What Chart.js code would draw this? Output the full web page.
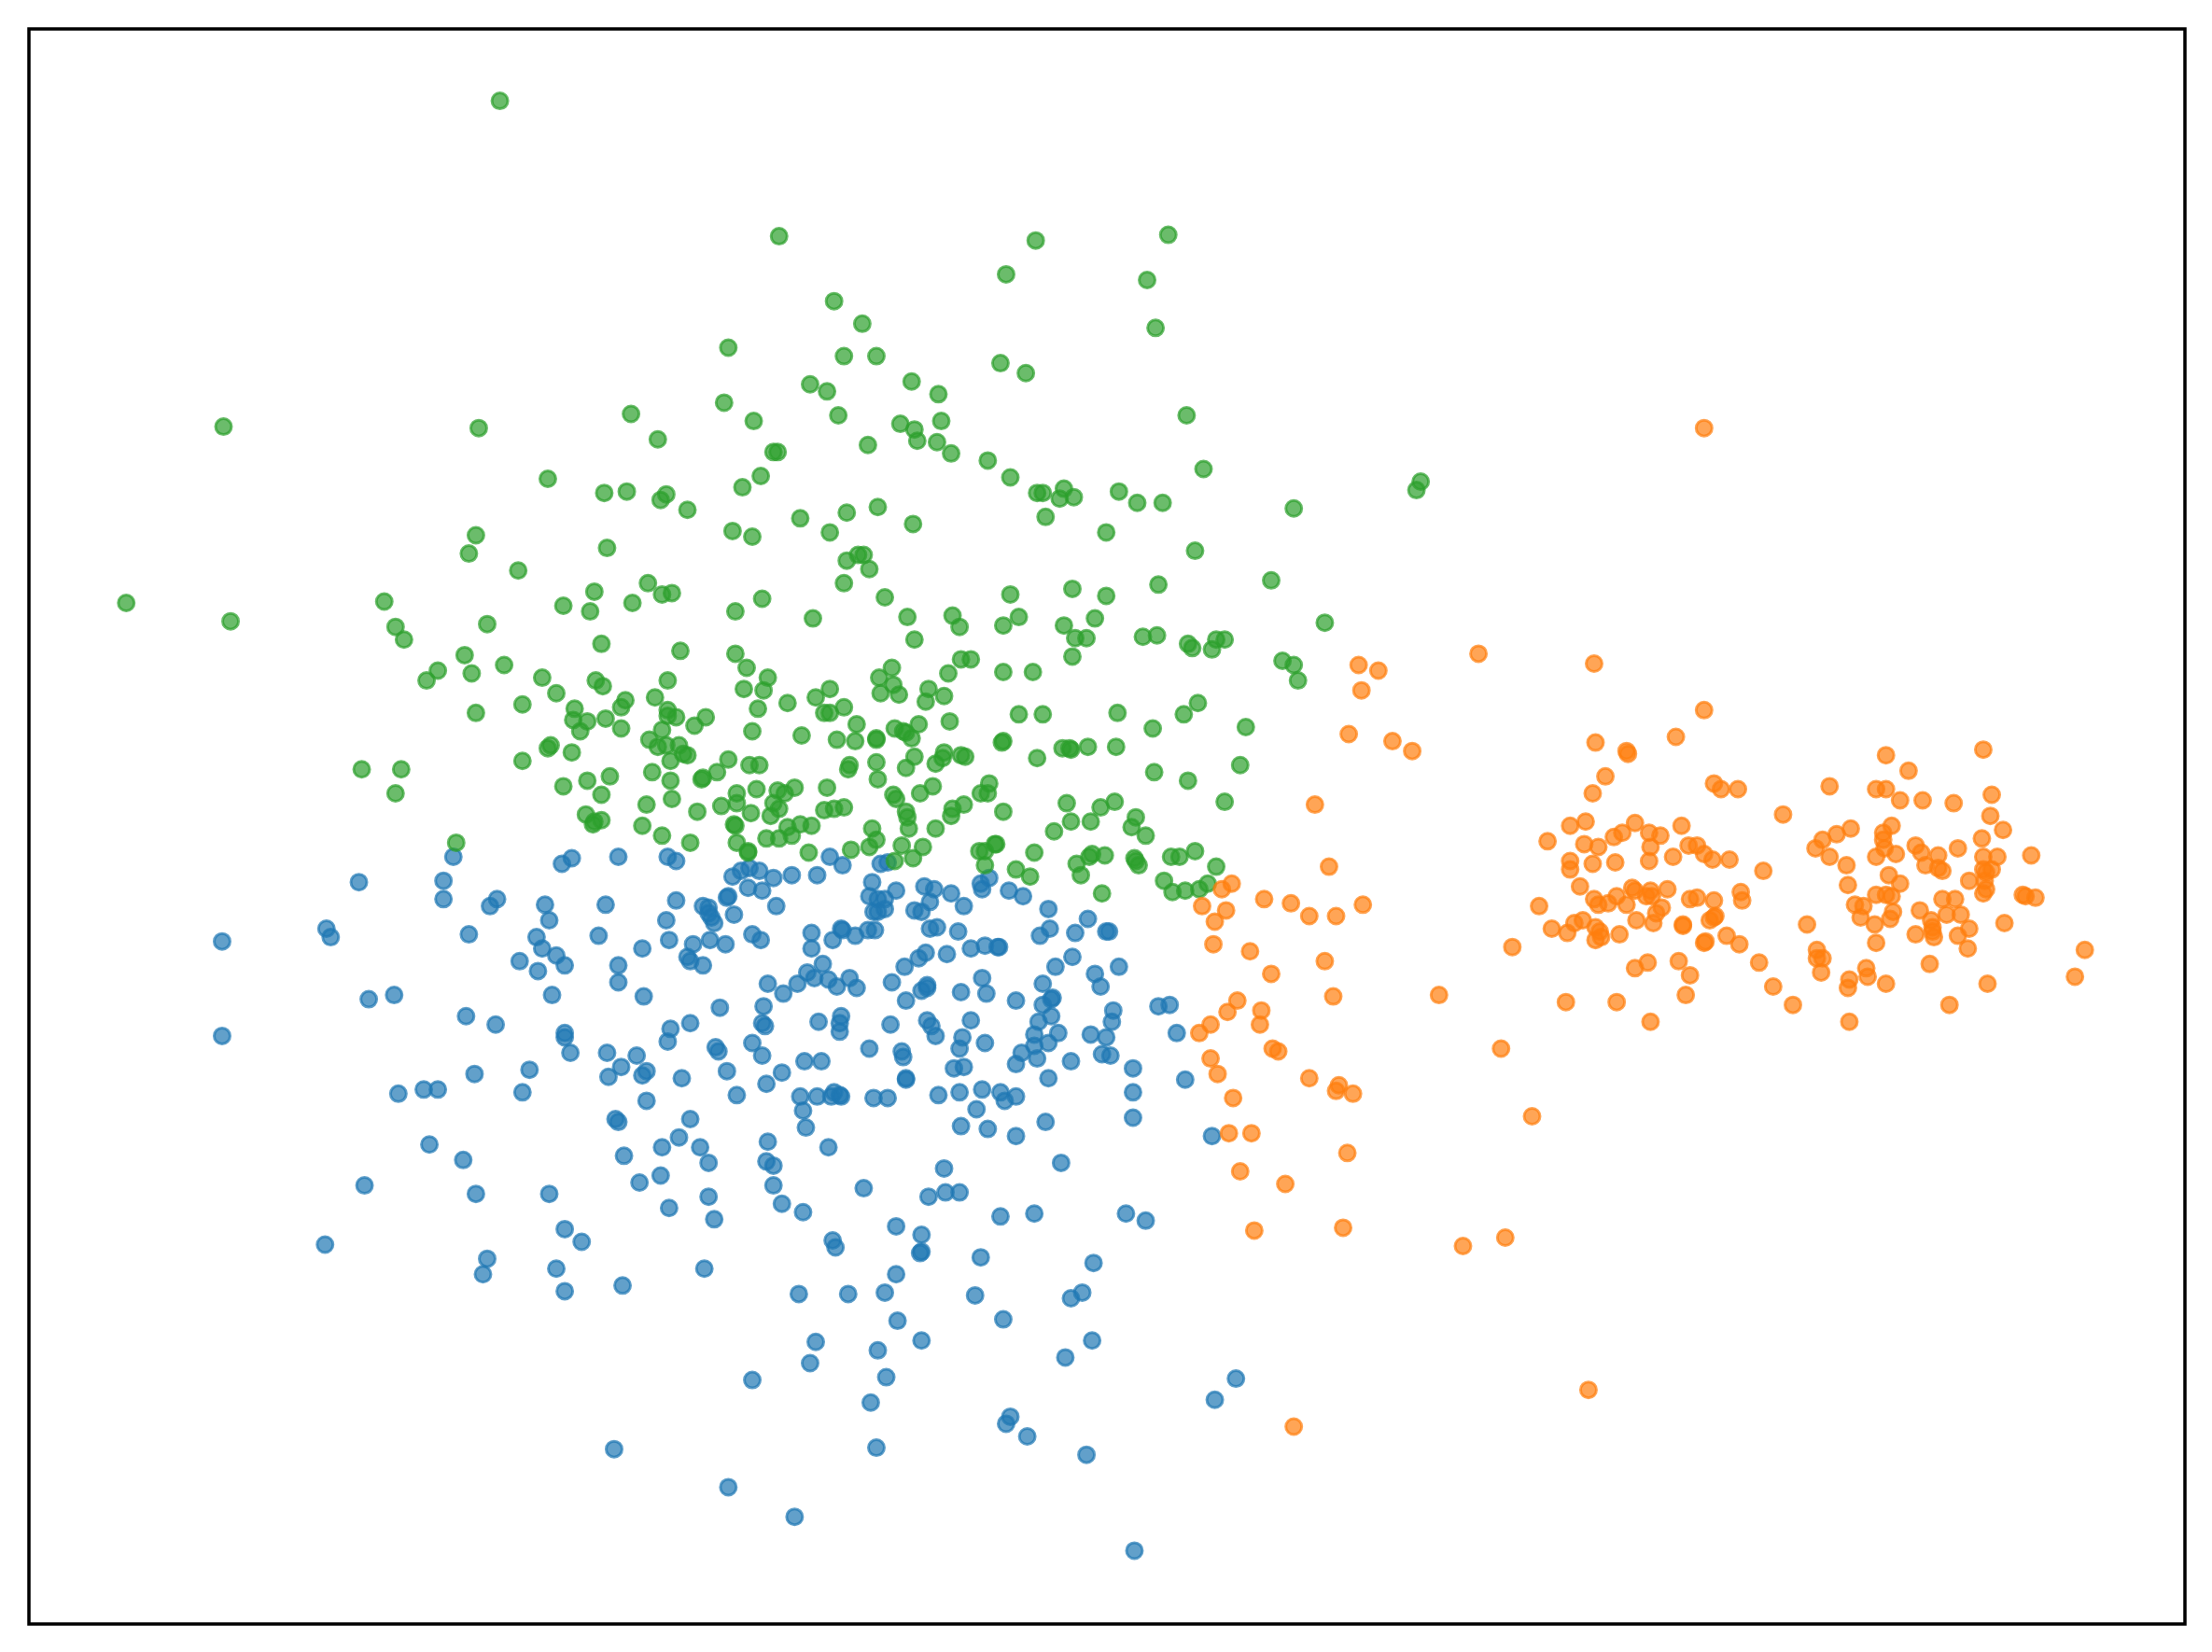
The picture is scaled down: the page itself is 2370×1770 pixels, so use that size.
<!DOCTYPE html>
<html>
<head>
<meta charset="utf-8">
<title>Scatter</title>
<script src="https://cdn.jsdelivr.net/npm/chart.js@4"></script>
<style>
  html, body { margin: 0; padding: 0; background: #fff; }
  canvas { display: block; }
</style>
</head>
<body>
<canvas id="myChart" width="2370" height="1770"></canvas>
<script>
// values, [x, y] (y grows downwards)
const xRange = [20, 1549];
const yRange = [20, 1151];

const bluePoints = [
  [405,608],[398,612],[438,607],[473,607],[479,610],[588,607],[597,613],[624,612],[629,611],[519,621],[525,617],[531,615],[538,617],[548,622],[561,620],[579,620],
  [530,629],[540,631],[516,635],[515,636],[550,642],[520,648],[479,638],[498,642],[502,643],[502,647],[506,654],[504,650],[472,652],[474,666],[455,672],
  [491,669],[503,666],[514,669],[533,662],[539,666],[487,678],[489,681],[498,684],[438,684],[438,696],[456,706],[510,714],[541,713],[540,725],[542,727],[580,724],
  [596,720],[595,725],[595,731],[631,726],[657,723],[660,727],[663,734],[688,723],[682,735],[680,743],[698,739],[616,743],[639,745],[640,749],[642,765],[642,764],
  [683,756],[676,757],[665,776],[680,774],[696,772],[709,774],[712,780],[720,777],[692,786],[681,798],[700,800],[720,805],[741,795],[743,764],[720,754],[724,746],
  [735,750],[733,741],[743,739],[733,733],[736,724],[750,732],[745,720],[739,712],[746,707],[745,708],[739,697],[720,709],[696,693],[699,704],[681,703],[657,698],
  [653,702],[657,700],[642,709],[632,696],[641,685],[651,679],[656,675],[671,676],[688,672],[698,670],[708,671],[707,671],[679,660],[659,658],[664,657],[648,645],
  [653,646],[659,639],[655,628],[662,630],[674,633],[683,642],[695,626],[696,630],[701,622],[715,631],[725,635],[743,644],[744,658],[737,663],[762,661],[771,651],
  [784,660],[786,660],[760,678],[748,685],[776,690],[780,699],[793,685],[789,716],[788,724],[784,735],[773,733],[781,747],[787,748],[759,752],[803,757],[803,774],
  [803,792],[752,824],[821,713],[829,712],[618,625],[616,635],[635,631],[622,637],[627,637],[619,646],[622,646],[627,644],[575,661],[575,672],[590,666],
  [596,658],[597,659],[606,663],[615,659],[620,659],[583,683],[572,689],[577,693],[587,694],[593,699],[602,693],[607,700],[565,697],[555,704],[544,697],[533,739],
  [540,748],[554,760],[570,752],[582,752],[543,768],[522,776],[567,777],[579,777],[591,774],[595,776],[589,777],[596,777],[569,787],[571,799],[587,813],[619,778],
  [629,778],[544,809],[543,823],[548,826],[489,793],[481,806],[469,813],[496,813],[502,824],[442,819],[458,780],[436,793],[438,795],[483,764],[515,759],[507,742],
  [509,745],[475,729],[473,738],[489,725],[451,748],[458,759],[455,762],[440,756],[431,763],[430,746],
  [321,607],[314,624],[314,637],[254,625],[352,637],[347,642],[157,667],[231,658],[234,664],[332,662],[380,664],[384,672],[389,652],[386,641],[424,663],[429,641],
  [368,681],[381,688],[394,677],[400,684],[391,705],[261,708],[279,705],[157,734],[330,720],[351,726],[400,732],[400,735],[404,746],[375,758],[336,761],[282,775],
  [300,772],[310,772],[370,774],[304,811],[328,822],[258,840],[337,846],[389,846],[230,882],[400,871],[412,880],[345,892],[342,903],[394,899],[400,915],[441,911],
  [499,899],[453,838],[468,833],[474,856],[502,848],[506,864],[566,917],[601,917],[627,916],[635,903],[590,879],[592,884],[635,869],[653,875],[653,887],[652,888],
  [658,848],[669,828],[670,845],[680,845],[612,842],[548,840],[554,853],[569,859],[709,862],[733,860],[695,891],[691,918],[636,936],[711,935],[775,895],[759,920],
  [767,916],[578,951],[574,966],[622,957],[653,950],[628,976],[533,978],[617,994],[755,962],[774,950],[876,977],[861,992],[716,1004],[713,1009],[728,1018],[621,1026],
  [770,1031],[435,1027],[516,1054],[563,1075],[804,1099],[798,860],[812,865],[859,805],[840,765],[834,732]
];

const greenPoints = [
  [354,71],[552,167],[734,170],[828,166],[713,194],[813,198],[819,232],[591,213],[611,229],[516,246],[598,252],[621,252],[709,257],[727,264],[574,272],[586,277],
  [646,270],[665,279],[513,285],[594,294],[534,298],[447,293],[158,302],[339,303],[638,300],[648,304],[667,298],[466,311],[650,312],[664,313],[674,321],[615,315],
  [841,294],[548,320],[551,320],[700,326],[853,332],[539,337],[526,345],[716,338],[388,339],[428,349],[444,348],[468,354],[472,350],[735,349],[739,349],[754,346],
  [751,353],[761,352],[793,348],[806,356],[824,356],[487,361],[600,363],[622,359],[917,360],[1007,341],[1004,347],[567,367],[647,371],[741,366],[519,376],[533,380],
  [588,377],[337,379],[784,377],[332,392],[430,388],[608,393],[612,393],[600,397],[847,390],[367,404],[616,403],[89,427],[598,413],[459,413],[421,419],[469,421],
  [476,420],[901,411],[821,414],[540,424],[716,421],[760,417],[784,422],[627,423],[272,426],[163,440],[280,444],[345,442],[286,453],[329,464],[357,471],[310,475],
  [334,477],[302,482],[337,505],[256,545],[284,545],[280,562],[323,597],
  [399,429],[418,433],[448,427],[521,433],[576,438],[643,437],[675,436],[680,444],[648,453],[426,456],[482,461],[521,463],[529,473],[681,467],[688,467],[672,477],
  [632,473],[623,480],[633,485],[637,492],[624,491],[544,480],[541,489],[527,488],[384,480],[394,491],[422,482],[427,486],[473,482],[464,494],[443,496],[440,501],
  [370,499],[407,502],[406,510],[416,511],[411,518],[429,509],[440,516],[473,503],[473,507],[479,508],[492,514],[500,508],[537,502],[558,498],[578,494],[588,488],
  [598,501],[584,505],[588,505],[658,488],[656,497],[669,493],[673,511],[607,513],[606,525],[593,524],[621,524],[621,523],[634,516],[651,513],[642,519],[646,523],
  [640,518],[469,517],[460,524],[466,529],[472,528],[481,528],[484,534],[487,535],[475,539],[533,518],[568,521],[370,539],[388,530],[390,528],[405,533],[462,547],
  [475,553],[476,566],[458,570],[455,585],[494,575],[469,592],[489,597],[498,551],[497,552],[508,547],[516,538],[531,542],[538,542],[602,542],[601,545],[621,540],
  [622,552],[642,544],[648,536],[663,541],[669,533],[668,537],[681,535],[684,536],[536,559],[522,562],[522,569],[511,571],[532,576],[551,560],[563,558],[556,562],
  [548,569],[552,573],[546,578],[586,558],[584,574],[591,573],[598,572],[520,584],[521,585],[522,597],[530,603],[530,604],[543,594],[552,594],[558,586],[561,592],
  [567,584],[575,585],[573,604],[603,602],[616,600],[618,587],[621,595],[633,563],[635,566],[642,575],[643,579],[644,587],[652,562],[661,557],[683,570],[675,573],
  [674,578],[663,587],[639,599],[654,600],[647,608],[634,610],
  [399,557],[416,553],[432,550],[426,563],[415,577],[426,581],[420,584],[421,582],
  [711,443],[722,437],[754,443],[776,438],[762,452],[770,452],[760,465],[711,476],[732,476],[810,451],[820,450],[842,456],[845,459],[859,460],[862,453],[868,453],
  [909,468],[917,471],[920,482],[939,441],[722,506],[739,506],[792,505],[817,516],[839,506],[849,498],[883,515],[711,525],[710,526],[735,537],[753,530],[758,530],
  [759,531],[771,529],[791,529],[818,547],[842,553],[879,542],[868,568],[701,555],[700,562],[695,562],[711,575],[756,569],[780,572],[790,568],[759,582],[773,582],
  [747,589],[805,579],[802,586],[812,592],[733,604],[706,598],[705,598],[698,603],[694,603],[698,613],[720,616],[730,621],[763,612],[766,620],[772,607],[774,605],
  [783,606],[804,608],[807,613],[805,610],[830,607],[836,607],[847,603],[862,614],[825,624],[831,632],[840,631],[850,630],[856,626],[781,633]
];

const orangePoints = [
  [963,471],[977,475],[965,489],[956,520],[987,525],[1001,532],[932,570],[942,614],[873,626],[866,630],[896,637],[915,640],[928,649],[947,649],[966,641],[852,642],
  [869,645],[861,653],[1131,526],[1153,532],[1154,534],[1138,550],[1129,562],[1188,522],[1215,555],[1220,559],[1232,559],[1264,577],[1297,557],[1330,559],[1337,559],
  [1337,535],[1353,546],[1347,567],[1363,567],[1385,569],[1406,531],[1412,563],[1411,578],[1420,588],[1405,594],[1388,601],[1440,606],
  [1124,582],[1113,585],[1097,596],[1123,598],[1133,600],[1144,593],[1150,590],[1159,583],[1169,590],[1177,592],[1170,600],[1169,610],[1192,585],[1186,607],[1197,599],
  [1203,599],[1208,605],[1214,609],[1226,609],[1250,617],[1113,610],[1113,616],[1129,612],[1145,611],[1120,628],[1130,637],[1133,641],[1140,640],[1146,635],[1153,641],
  [1157,629],[1159,631],[1170,631],[1167,635],[1171,635],[1182,630],[1091,642],[1198,637],[1203,636],[1215,638],[1234,632],[1235,638],[1178,643],[1174,647],[1172,654],
  [1160,652],[1100,658],[1111,661],[1116,654],[1122,652],[1131,657],[1134,660],[1131,666],[1135,664],[1148,662],[1193,655],[1193,656],[1215,650],[1216,649],[1212,652],
  [1209,667],[1208,668],[1224,663],[1233,669],[1247,682],[1257,699],[1271,712],[1281,655],[1190,681],[1198,691],[1195,705],[1168,682],[1159,686],[1146,710],[1110,710],
  [1170,724],[1072,671],[1064,743],
  [1312,587],[1302,591],[1292,595],[1287,601],[1297,607],[1309,613],[1310,627],[1341,585],[1335,590],[1335,595],[1336,601],[1344,605],[1330,607],[1358,599],[1362,604],
  [1374,606],[1365,613],[1374,615],[1377,617],[1406,607],[1416,607],[1412,616],[1406,616],[1408,618],[1396,624],[1407,624],[1408,630],[1406,633],[1339,620],[1347,626],
  [1330,634],[1337,634],[1341,635],[1377,637],[1386,637],[1434,634],[1443,636],[1436,635],[1315,641],[1321,642],[1319,650],[1329,655],[1342,646],[1340,651],[1361,645],
  [1380,648],[1390,648],[1396,658],[1421,654],[1369,652],[1370,657],[1370,660],[1371,664],[1358,662],[1388,663],[1395,672],[1330,668],[1288,673],[1288,679],[1292,679],
  [1291,689],[1323,686],[1324,692],[1311,694],[1310,700],[1337,697],[1368,683],[1409,697],[1382,712],[1311,724],[1478,673],[1471,692],
  [1208,303],[1048,463],[1130,470],[1208,503],[1020,705],[1086,791],[1037,883],[1067,877],[1126,985],[917,1011],[850,732],[858,726],[870,717],[877,709],[894,716],[893,726],
  [858,750],[863,761],[902,743],[906,745],[874,778],[871,803],[887,803],[879,830],[911,839],[955,817],[889,872],[952,870],[928,764],[949,769],[947,773],[959,775],[945,706],
  [939,681],[901,690],[886,674],[860,669]
];

function toXY(points) {
  return points.map(p => ({ x: p[0], y: p[1] }));
}

function makeSet(label, points, r, g, b, order) {
  return {
    label: label,
    data: toXY(points),
    order: order,
    pointRadius: 8.5,
    pointHoverRadius: 8.5,
    pointBorderWidth: 3,
    pointBackgroundColor: `rgba(${r},${g},${b},0.7)`,
    pointBorderColor: `rgba(${r},${g},${b},0.7)`
  };
}

// black box round the plot, the axes themselves have no ticks
const frame = {
  id: 'frame',
  afterDraw(chart) {
    const a = chart.chartArea;
    const c = chart.ctx;
    c.save();
    c.strokeStyle = '#000';
    c.lineWidth = 3.5;
    c.strokeRect(a.left, a.top, a.width, a.height);
    c.restore();
  }
};

new Chart(document.getElementById('myChart'), {
  type: 'scatter',
  data: {
    datasets: [
      makeSet('0', bluePoints, 31, 119, 180, 3),
      makeSet('1', orangePoints, 255, 127, 14, 1),
      makeSet('2', greenPoints, 44, 160, 44, 2)
    ]
  },
  options: {
    responsive: false,
    animation: false,
    layout: { padding: { left: 31, top: 31, right: 29, bottom: 30 } },
    plugins: { legend: { display: false }, tooltip: { enabled: false } },
    scales: {
      x: { type: 'linear', display: false, min: xRange[0], max: xRange[1] },
      y: { type: 'linear', display: false, min: yRange[0], max: yRange[1], reverse: true }
    }
  },
  plugins: [frame]
});
</script>
</body>
</html>
